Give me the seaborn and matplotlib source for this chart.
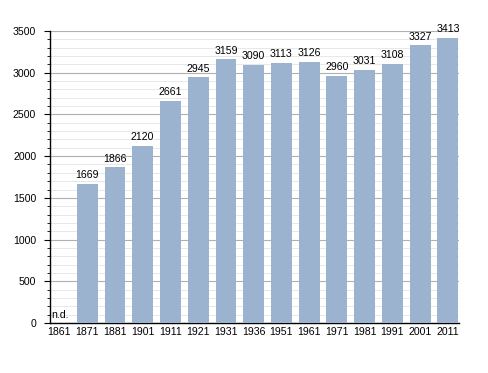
import numpy as np
import matplotlib
matplotlib.use('Agg')
import matplotlib.pyplot as plt
import seaborn as sns
import pandas as pd
from matplotlib.ticker import MultipleLocator

years = ['1861', '1871', '1881', '1901', '1911', '1921', '1931', '1936',
         '1951', '1961', '1971', '1981', '1991', '2001', '2011']
population = [0, 1669, 1866, 2120, 2661, 2945, 3159, 3090,
              3113, 3126, 2960, 3031, 3108, 3327, 3413]
missing_label = 'n.d.'

df = pd.DataFrame({'anno': years, 'abitanti': population})

sns.set_style('white')
plt.rcParams['font.family'] = ['Liberation Sans', 'DejaVu Sans']
plt.rcParams['text.color'] = 'black'
plt.rcParams['xtick.color'] = 'black'
plt.rcParams['ytick.color'] = 'black'

fs = 7.6

fig = plt.figure(figsize=(4.88, 3.73), dpi=100)
ax = fig.add_axes([0.1025, 0.134, 0.838, 0.783])

sns.barplot(data=df, x='anno', y='abitanti', color='#9bb3cf', width=0.75,
            saturation=1, linewidth=0, edgecolor='none', ax=ax, zorder=3)

ax.set_ylim(0, 3500)
ax.set_xlim(-0.34, 14.4)
ax.yaxis.set_major_locator(MultipleLocator(500))
ax.yaxis.set_minor_locator(MultipleLocator(100))
ax.grid(which='major', axis='y', color='#b0b0b0', lw=0.8, zorder=0)
ax.grid(which='minor', axis='y', color='#e4e4e4', lw=0.6, zorder=0)
ax.set_axisbelow(True)

for s in ['top', 'right']:
    ax.spines[s].set_visible(False)
for s in ['left', 'bottom']:
    ax.spines[s].set_color('black')
    ax.spines[s].set_linewidth(1.0)

ax.tick_params(axis='y', which='major', direction='out', length=4, width=0.8,
               left=True, labelsize=fs, pad=6)
ax.tick_params(axis='y', which='minor', direction='out', length=2, width=0.6, left=True)
ax.tick_params(axis='x', length=0, labelsize=fs, pad=3)
ax.set_xlabel('')
ax.set_ylabel('')

for i, v in enumerate(population):
    if v == 0:
        ax.text(i - 0.3, 40, missing_label, fontsize=fs, ha='left', va='bottom', zorder=4)
    else:
        ax.text(i, v + 45, str(v), fontsize=fs, ha='center', va='bottom', zorder=4)

plt.savefig('out.png', dpi=100)
